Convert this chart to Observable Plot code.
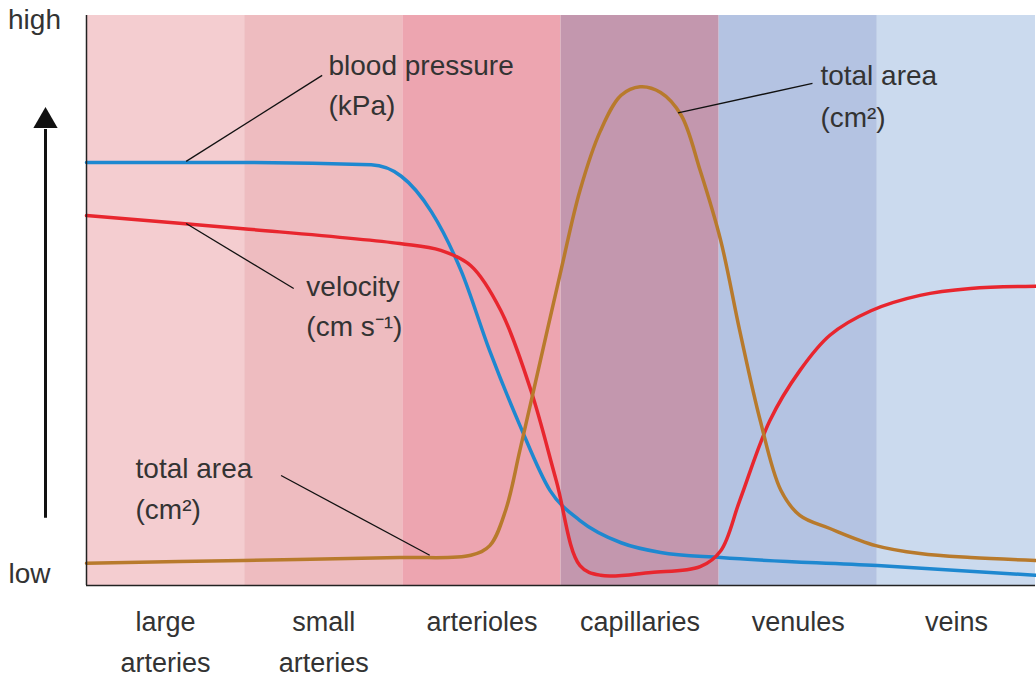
<!DOCTYPE html>
<html>
<head>
<meta charset="utf-8">
<script src="https://cdn.jsdelivr.net/npm/d3@7"></script>
<script src="https://cdn.jsdelivr.net/npm/@observablehq/plot@0.6"></script>
<style>
  body { margin: 0; background: #fff; }
  svg { font-family: "Liberation Sans", Arial, sans-serif; }
</style>
</head>
<body>
<div id="chart"></div>
<script>
// vessel types, one band each
const vessels = ["large\narteries", "small\narteries", "arterioles", "capillaries", "venules", "veins"];
const bandColors = ["#f4cdd0", "#eebcc0", "#eda5b0", "#c397ae", "#b4c3e2", "#cbdaee"];

// curves (x in vessel units 0..6, y relative 0..100)
const pressureX = [0, 1.0, 1.8, 1.99, 2.18, 2.37, 2.55, 2.74, 2.93, 3.12, 3.38, 3.63, 4.01, 5.0, 6.0];
const pressureY = [74.2, 74.2, 73.8, 71.8, 65.6, 55.1, 41.1, 28.1, 16.7, 11.4, 7.5, 5.8, 4.9, 3.5, 1.8];

const velocityX = [0, 0.99, 1.98, 2.24, 2.43, 2.62, 2.81, 2.97, 3.12, 3.25, 3.57, 3.88, 4.01, 4.13, 4.32, 4.51, 4.7, 4.96, 5.27, 5.59, 6.0];
const velocityY = [64.9, 62.6, 60.0, 58.8, 56.1, 48.2, 34.2, 18.4, 3.5, 1.8, 2.3, 3.3, 6.1, 14.9, 28.9, 37.7, 43.9, 48.2, 50.9, 52.1, 52.5];

const areaX = [0, 0.99, 1.98, 2.43, 2.55, 2.65, 2.74, 2.87, 3.0, 3.12, 3.25, 3.38, 3.5, 3.63, 3.76, 3.88, 4.01, 4.13, 4.26, 4.39, 4.51, 4.7, 4.99, 5.27, 5.59, 6.0];
const areaY = [3.9, 4.4, 4.9, 5.3, 7.0, 13.2, 23.7, 39.5, 55.3, 69.3, 79.8, 86.0, 87.5, 86.5, 82.5, 72.8, 60.5, 44.7, 28.9, 16.7, 12.3, 10.0, 7.0, 5.6, 4.9, 4.4];

// labels: [text, x, y]
const labels = [
  ["blood pressure", 1.53, 91.2], ["(kPa)", 1.53, 84.2],
  ["velocity", 1.39, 52.3], ["(cm s⁻¹)", 1.39, 45.3],
  ["total area", 0.31, 20.5], ["(cm²)", 0.31, 13.2],
  ["total area", 4.64, 89.4], ["(cm²)", 4.64, 82.0]
];
// leader lines: [x1, y1, x2, y2]
const leaders = [
  [0.63, 74.4, 1.49, 89.5],
  [0.63, 63.5, 1.31, 52.1],
  [1.23, 19.3, 2.17, 5.3],
  [3.74, 82.9, 4.59, 88.1]
];

const bands = vessels.map((v, i) => ({v, i, c: bandColors[i]}));
const toRows = (xs, ys) => xs.map((x, i) => ({x, y: ys[i]}));

const chart = Plot.plot({
  width: 1036,
  height: 675,
  marginTop: 15,
  marginBottom: 90,
  marginLeft: 86,
  marginRight: 1,
  x: {domain: [0, 6], axis: null},
  y: {domain: [0, 100], axis: null},
  marks: [
    Plot.rectY(bands, {x1: "i", x2: d => d.i + 1, y1: 0, y2: 100, fill: "c"}),
    Plot.line(toRows(pressureX, pressureY), {x: "x", y: "y", stroke: "#1e88d0", strokeWidth: 3.5, curve: "monotone-x"}),
    Plot.line(toRows(velocityX, velocityY), {x: "x", y: "y", stroke: "#e8262e", strokeWidth: 3.5, curve: "catmull-rom"}),
    Plot.line(toRows(areaX, areaY), {x: "x", y: "y", stroke: "#b87a2c", strokeWidth: 3.5, curve: "catmull-rom"}),
    Plot.link(leaders, {x1: d => d[0], y1: d => d[1], x2: d => d[2], y2: d => d[3], stroke: "#111", strokeWidth: 1.3}),
    Plot.text(labels, {x: d => d[1], y: d => d[2], text: d => d[0], textAnchor: "start", fontSize: 28, fill: "#333"}),
    Plot.ruleX([0], {y1: 0, y2: 100, stroke: "#222", strokeWidth: 1.5}),
    Plot.ruleY([0], {x1: 0, x2: 6, stroke: "#222", strokeWidth: 1.5}),
    Plot.text(bands, {x: d => d.i + 0.5, y: 0, text: "v", dy: 17, lineAnchor: "top", lineHeight: 1.5, fontSize: 27, fill: "#333"}),
    Plot.text(["high"], {x: 0, y: 100, dx: -52, dy: 5, text: d => d, fontSize: 28, fill: "#333"}),
    Plot.text(["low"], {x: 0, y: 2, dx: -57, text: d => d, fontSize: 28, fill: "#333"}),
    Plot.ruleX([0], {y1: 11.8, y2: 80, dx: -41, stroke: "#111", strokeWidth: 3}),
    Plot.dot([0], {x: 0, y: 81.5, dx: -41, symbol: "triangle", r: 9, fill: "#111"})
  ]
});
document.getElementById("chart").append(chart);
</script>
</body>
</html>
